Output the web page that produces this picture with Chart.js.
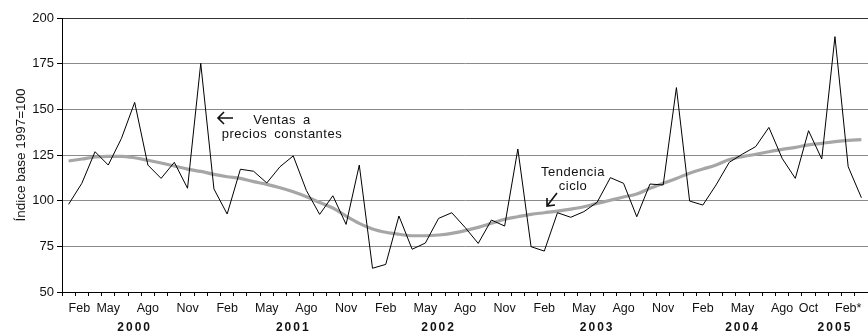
<!DOCTYPE html>
<html>
<head>
<meta charset="utf-8">
<script src="https://cdn.jsdelivr.net/npm/chart.js@4.4.1/dist/chart.umd.min.js"></script>
<style>
  html, body { margin: 0; padding: 0; background: #fff; }
  #wrap { width: 868px; height: 334px; }
</style>
</head>
<body>
<div id="wrap"><canvas id="graph1"></canvas></div>
<script>
// meses de feb 2000 a feb 2005, solo se rotulan algunos
const etiquetasMes = [
  "Feb", "", "", "May", "", "", "Ago", "", "", "Nov", "", "",
  "Feb", "", "", "May", "", "", "Ago", "", "", "Nov", "", "",
  "Feb", "", "", "May", "", "", "Ago", "", "", "Nov", "", "",
  "Feb", "", "", "May", "", "", "Ago", "", "", "Nov", "", "",
  "Feb", "", "", "May", "", "", "Ago", "", "Oct", "", "", "",
  "Feb*"
];

// segunda fila: años
const etiquetasAnio = [
  "", "", "", "", "", "2000", "", "", "", "", "", "",
  "", "", "", "", "", "2001", "", "", "", "", "", "",
  "", "", "", "", "2002", "", "", "", "", "", "", "",
  "", "", "", "", "2003", "", "", "", "", "", "", "",
  "", "", "", "2004", "", "", "", "", "", "", "2005", "",
  ""
];

// índice base 1997=100
const ventas = [
  98.0, 109.5, 126.8, 119.5, 134.1, 153.8, 119.5, 112.2, 121.0, 106.8, 175.2, 106.4,
  92.7, 117.2, 116.1, 109.7, 118.6, 124.5, 105.5, 92.5, 102.7, 87.0, 119.5, 63.0,
  65.1, 91.6, 73.4, 76.8, 90.3, 93.4, 85.4, 76.6, 89.4, 86.1, 128.3, 74.8,
  72.4, 93.4, 90.9, 94.0, 99.1, 112.6, 109.5, 91.2, 109.1, 108.6, 161.9, 99.8,
  97.6, 108.6, 121.0, 125.5, 129.6, 140.1, 123.2, 112.2, 138.3, 122.8, 189.8, 118.6,
  101.6
];

const tendencia = [
  121.7, 122.8, 123.9, 124.3, 124.3, 123.5, 122.1, 120.6, 119.0, 117.3, 116.0, 114.4,
  113.1, 112.2, 110.4, 108.9, 107.1, 104.9, 102.2, 99.0, 96.0, 91.6, 87.6, 84.5,
  82.7, 81.6, 80.8, 80.8, 81.2, 82.1, 83.6, 85.4, 87.6, 89.8, 91.2, 92.5,
  93.4, 94.3, 95.4, 96.7, 98.5, 100.2, 102.0, 103.6, 106.8, 109.5, 112.2, 115.0,
  117.3, 119.5, 122.5, 124.1, 125.4, 126.8, 128.1, 129.2, 130.5, 131.4, 132.3, 133.0,
  133.4
];

const fuente = '"Liberation Sans", Arial, sans-serif';

// textos y flechas sobre el gráfico
const notas = {
  id: 'notas',
  afterLayout(chart) {
    // años en negrita y espaciados
    const s = chart.scales.x2;
    if (s && !s._espaciado) {
      const orig = s.drawLabels;
      s.drawLabels = function (area) {
        const c = this.ctx;
        c.save();
        c.letterSpacing = '2px';
        orig.call(this, area);
        c.restore();
      };
      s._espaciado = true;
    }
  },
  afterDatasetsDraw(chart) {
    const c = chart.ctx;
    c.save();
    c.fillStyle = '#111';
    c.strokeStyle = '#111';
    c.font = '13px ' + fuente;
    c.textAlign = 'center';
    c.textBaseline = 'middle';
    c.wordSpacing = '3px';
    c.letterSpacing = '0.5px';
    c.fillText('Ventas a', 282, 120);
    c.fillText('precios constantes', 282, 134);
    c.fillText('Tendencia', 573, 172);
    c.fillText('ciclo', 573, 186);

    c.lineWidth = 1.6;
    c.beginPath();
    c.moveTo(233, 118); c.lineTo(218, 118);
    c.moveTo(224, 112); c.lineTo(218, 118); c.lineTo(224, 124);
    c.stroke();

    c.beginPath();
    c.moveTo(557, 193); c.lineTo(547, 206);
    c.moveTo(547, 198); c.lineTo(547, 206); c.lineTo(555, 205);
    c.stroke();
    c.restore();
  }
};

const ctx = document.getElementById("graph1");

new Chart(ctx, {
  type: "line",
  data: {
    labels: etiquetasMes,
    datasets: [
      {
        label: "Ventas a precios constantes",
        data: ventas,
        borderColor: "#000",
        borderWidth: 1,
        pointRadius: 0,
        tension: 0,
        order: 1
      },
      {
        label: "Tendencia ciclo",
        data: tendencia,
        borderColor: "#a6a6a6",
        borderWidth: 3.2,
        pointRadius: 0,
        cubicInterpolationMode: "monotone",
        order: 2
      }
    ]
  },
  options: {
    responsive: true,
    maintainAspectRatio: false,
    animation: false,
    layout: { padding: { top: 18, right: 0, bottom: 0, left: 0 } },
    plugins: {
      legend: { display: false },
      tooltip: { enabled: false }
    },
    scales: {
      x: {
        type: "category",
        offset: true,
        border: { color: "#000", width: 1 },
        grid: {
          offset: true,
          drawOnChartArea: false,
          drawTicks: true,
          tickLength: 4,
          tickColor: "#000"
        },
        ticks: {
          autoSkip: false,
          maxRotation: 0,
          align: "inner",
          padding: 5,
          color: "#111",
          font: { family: fuente, size: 12.5, lineHeight: 1.2 }
        },
        afterFit(scale) {
          scale.height = 26;
        }
      },
      x2: {
        type: "category",
        position: "bottom",
        labels: etiquetasAnio,
        offset: true,
        border: { display: false },
        grid: { display: false, drawTicks: false, tickLength: 0 },
        ticks: {
          autoSkip: false,
          maxRotation: 0,
          padding: 2,
          color: "#111",
          font: { family: fuente, size: 12, weight: "bold", lineHeight: 1.2 }
        },
        afterFit(scale) {
          scale.height = 16;
        }
      },
      y: {
        min: 50,
        max: 200,
        border: { color: "#000", width: 1 },
        grid: {
          color: (c) => (c.tick && c.tick.value === 200 ? "#333" : "#8a8a8a"),
          lineWidth: 1,
          tickLength: 5,
          tickColor: "#000"
        },
        ticks: {
          stepSize: 25,
          padding: 3,
          color: "#111",
          font: { family: fuente, size: 13 }
        },
        title: {
          display: true,
          text: "Índice base 1997=100",
          color: "#111",
          padding: { top: 13, bottom: 4 },
          font: { family: fuente, size: 13.5 }
        },
        afterFit(scale) {
          scale.width = 62;
        }
      }
    }
  },
  plugins: [notas]
});
</script>
</body>
</html>
